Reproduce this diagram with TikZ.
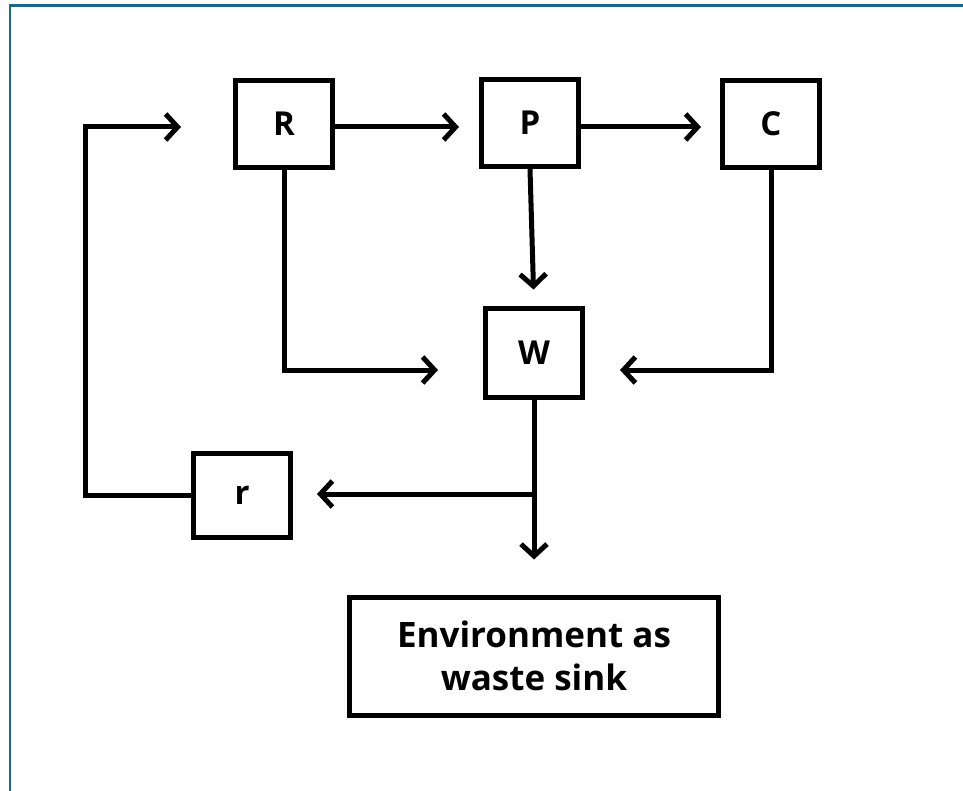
\documentclass[tikz,border=0pt]{standalone}
\usepackage{fontspec}
\setmainfont{Open Sans}
\usetikzlibrary{arrows.meta}
\definecolor{frameblue}{RGB}{26,104,140}
\tikzset{
  box/.style={draw, line width=5pt, inner sep=0pt, minimum width=97pt, minimum height=87pt, font=\fontsize{33}{40}\selectfont\bfseries},
  arr/.style={line width=5pt, -{Straight Barb[length=12pt,width=26pt]}}
}
\begin{document}
\begin{tikzpicture}[x=1pt,y=-1pt]
\useasboundingbox (0,0) rectangle (963,791);
\draw[frameblue, line width=2.2pt] (10,791) -- (10,5.5) -- (963,5.5);
\node[box] (R) at (284,124) {R};
\node[box] (P) at (530,123) {P};
\node[box] (C) at (771,124) {C};
\node[box, minimum height=88pt] (W) at (534,353) {W};
\node[box, minimum height=84pt] (r) at (242,495) {r};
\node[box, minimum width=369pt, minimum height=118pt, align=center, font=\fontsize{35}{43}\selectfont\bfseries] (env) at (534,656) {Environment as\\waste sink};
\coordinate (br) at (534,494);
\coordinate (fb) at (85,127);
\draw[arr, shorten >=20pt] (R.east |- 0,127) -- (P.west |- 0,127);
\draw[arr, shorten >=19pt] (P.east |- 0,127) -- (C.west |- 0,127);
\draw[arr, shorten >=17pt] (P.south) -- (W.north);
\draw[arr, shorten >=45pt] (R.south) |- ([yshift=-17pt]W.west);
\draw[arr, shorten >=35pt] (C.south) |- ([yshift=-17pt]W.east);
\draw[arr, shorten >=35pt] (W.south) -- (env.north);
\draw[arr, shorten >=24pt] (br) -- (r.east |- br);
\draw[arr, shorten >=52pt] (r.west) -| (fb) -- (R.west |- fb);
\end{tikzpicture}
\end{document}
